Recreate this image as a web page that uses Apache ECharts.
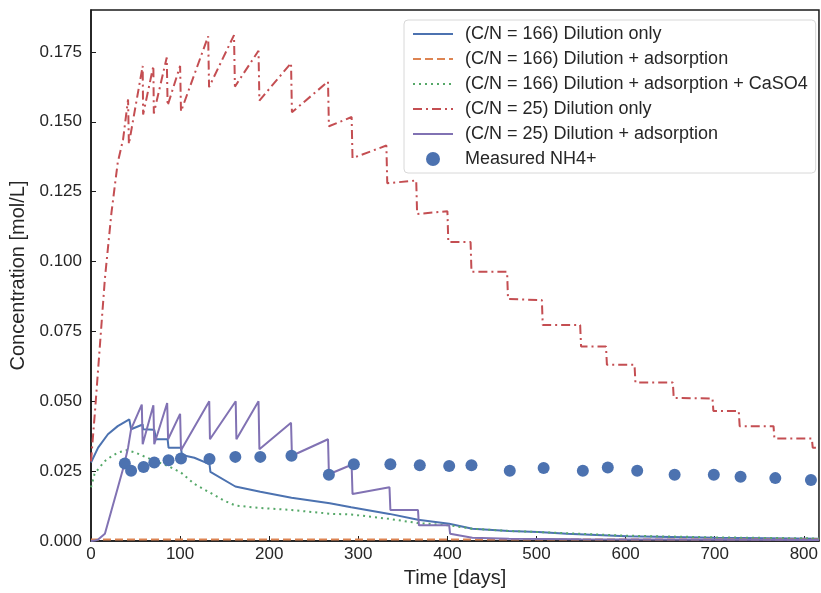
<!DOCTYPE html>
<html>
<head>
<meta charset="utf-8">
<script src="https://cdn.jsdelivr.net/npm/echarts@6/dist/echarts.min.js"></script>
<style>
  html, body { margin: 0; padding: 0; background: #fff; }
  #main { width: 821px; height: 593px; }
</style>
</head>
<body>
<div id="main"></div>
<script>
// C/N = 166, dilution only
const cn166DilDays = [0, 8, 19, 30, 43, 45, 58, 58.5, 71, 73, 86, 87, 101, 102, 116, 133, 134, 162, 163, 190, 191, 225, 226, 268, 269, 292, 335, 367, 402, 428, 469, 502, 534, 601, 701, 817];
const cn166DilConc = [0.0281, 0.0334, 0.0382, 0.0411, 0.0435, 0.0400, 0.0417, 0.0400, 0.0398, 0.0364, 0.0364, 0.0334, 0.0334, 0.0308, 0.0298, 0.0275, 0.0247, 0.0195, 0.0188, 0.0176, 0.0170, 0.0155, 0.0150, 0.0135, 0.0130, 0.0121, 0.0097, 0.0076, 0.0062, 0.0044, 0.0036, 0.0032, 0.0026, 0.0017, 0.0012, 0.0008];

// C/N = 166, dilution + adsorption
const cn166AdsDays = [0, 817];
const cn166AdsConc = [0.0005, 0.0005];

// C/N = 166, dilution + adsorption + CaSO4
const cn166CaDays = [0, 4, 10, 16, 23, 30, 40, 50, 58, 71, 86, 101, 116, 133, 149, 162, 190, 225, 270, 292, 335, 367, 402, 428, 469, 534, 600, 700, 817];
const cn166CaConc = [0.0192, 0.0240, 0.0265, 0.0287, 0.0303, 0.0316, 0.0325, 0.0316, 0.0305, 0.0287, 0.0269, 0.0245, 0.0204, 0.0174, 0.0145, 0.0127, 0.0118, 0.0111, 0.0097, 0.0095, 0.0079, 0.0064, 0.0056, 0.0044, 0.0036, 0.0028, 0.0019, 0.0013, 0.0009];

// C/N = 25, dilution only
const cn25DilDays = [0, 4.5, 10, 15.6, 23, 30, 36, 41.6, 42.5, 58, 58.5, 70, 70.5, 85, 86, 100, 101, 131.5, 132.5, 160.5, 161.5, 188, 189, 224.5, 225.5, 266, 267, 292.5, 293.5, 331.5, 332.5, 365, 366, 400, 401, 426, 427, 467, 468, 506, 507, 549, 550, 578, 579, 610, 611, 653, 654, 697.5, 698.5, 727, 728, 766, 767, 809, 810, 817];
const cn25DilConc = [0.0285, 0.0465, 0.0700, 0.0939, 0.1176, 0.1354, 0.1437, 0.1580, 0.1420, 0.1700, 0.1526, 0.1700, 0.1530, 0.1730, 0.1558, 0.1700, 0.1537, 0.1806, 0.1624, 0.1810, 0.1626, 0.1754, 0.1576, 0.1710, 0.1534, 0.1644, 0.1484, 0.1517, 0.1370, 0.1415, 0.1280, 0.1290, 0.1170, 0.1180, 0.1070, 0.1070, 0.0963, 0.0963, 0.0866, 0.0862, 0.0773, 0.0773, 0.0696, 0.0696, 0.0631, 0.0631, 0.0567, 0.0567, 0.0512, 0.0510, 0.0465, 0.0465, 0.0411, 0.0411, 0.0367, 0.0367, 0.0334, 0.0334];

// C/N = 25, dilution + adsorption
const cn25AdsDays = [0, 4.5, 8, 15.6, 23, 30, 37, 41.6, 45, 57, 58, 70, 71, 85.5, 86.5, 100, 101, 132.7, 133.5, 162.4, 163.2, 188, 189, 224.5, 225.5, 266, 267, 292.5, 293.5, 335, 336, 367, 368, 402, 403, 428, 469, 550, 817];
const cn25AdsConc = [0, 0.0002, 0.0005, 0.0026, 0.0110, 0.0190, 0.0270, 0.0334, 0.0400, 0.0488, 0.0346, 0.0486, 0.0346, 0.0494, 0.0364, 0.0455, 0.0325, 0.0500, 0.0364, 0.0500, 0.0364, 0.0500, 0.0328, 0.0423, 0.0305, 0.0364, 0.0239, 0.0273, 0.0168, 0.0192, 0.0111, 0.0111, 0.0056, 0.0056, 0.0026, 0.0012, 0.0008, 0.0006, 0.0004];

// measured NH4+
const measDays = [38, 45, 59, 71, 87, 101, 133, 162, 190, 225, 267, 295, 336, 369, 402, 427, 470, 508, 552, 580, 613, 655, 699, 729, 768, 808];
const measConc = [0.0277, 0.0251, 0.0265, 0.0281, 0.0289, 0.0295, 0.0293, 0.0301, 0.0301, 0.0305, 0.0237, 0.0275, 0.0275, 0.0271, 0.0268, 0.0271, 0.0251, 0.0261, 0.0251, 0.0263, 0.0251, 0.0237, 0.0237, 0.0230, 0.0225, 0.0218];

const xTicks = [0, 100, 200, 300, 400, 500, 600, 700, 800];
const yTicks = [0, 0.025, 0.05, 0.075, 0.1, 0.125, 0.15, 0.175];

const zip = (xs, ys) => xs.map((x, i) => [x, ys[i]]);

const textColor = '#262626';
const font = 'Liberation Sans, Arial, sans-serif';

function lineSeries(name, days, conc, color, type) {
    return {
        name: name,
        type: 'line',
        data: zip(days, conc),
        symbol: 'none',
        clip: true,
        lineStyle: { color: color, width: 2, type: type },
        itemStyle: { color: color }
    };
}

const chart = echarts.init(document.getElementById('main'));
chart.setOption({
    animation: false,
    backgroundColor: '#fff',
    textStyle: { fontFamily: font },
    grid: {
        left: 91, right: -2, top: 10, bottom: 49,
        show: true, borderColor: '#1a1a1a', borderWidth: 1.5
    },
    legend: {
        orient: 'vertical',
        left: 404, top: 20,
        padding: [5, 8, 5, 8],
        itemWidth: 40, itemHeight: 14, itemGap: 7,
        backgroundColor: 'rgba(255,255,255,0.85)',
        borderColor: '#d8d8d8', borderWidth: 1, borderRadius: 4,
        itemStyle: { opacity: 0 },
        textStyle: { color: textColor, fontSize: 18, padding: [0, 0, 0, 7] },
        data: [
            '(C/N = 166) Dilution only',
            '(C/N = 166) Dilution + adsorption',
            '(C/N = 166) Dilution + adsorption + CaSO4',
            '(C/N = 25) Dilution only',
            '(C/N = 25) Dilution + adsorption',
            { name: 'Measured NH4+', icon: 'circle', itemStyle: { color: '#4c72b0', opacity: 1 } }
        ]
    },
    xAxis: {
        type: 'value', min: 0, max: 817, interval: 100,
        name: 'Time [days]', nameLocation: 'middle', nameGap: 27,
        nameTextStyle: { color: textColor, fontSize: 20 },
        axisLine: { lineStyle: { color: '#1a1a1a', width: 1.5 } },
        axisTick: { inside: true, length: 5, lineStyle: { color: '#1a1a1a' } },
        axisLabel: {
            color: textColor, fontSize: 17, margin: 5, showMaxLabel: false,
            formatter: v => xTicks.includes(v) ? String(v) : ''
        },
        splitLine: { show: false }
    },
    yAxis: {
        type: 'value', min: 0, max: 0.19, interval: 0.025,
        name: 'Concentration [mol/L]', nameLocation: 'middle', nameGap: 61,
        nameTextStyle: { color: textColor, fontSize: 20 },
        axisLine: { show: true, lineStyle: { color: '#1a1a1a', width: 1.5 } },
        axisTick: { show: true, inside: true, length: 5, lineStyle: { color: '#1a1a1a' } },
        axisLabel: {
            color: textColor, fontSize: 17, margin: 9, showMaxLabel: false,
            formatter: v => yTicks.some(t => Math.abs(t - v) < 1e-9) ? v.toFixed(3) : ''
        },
        splitLine: { show: false }
    },
    series: [
        lineSeries('(C/N = 166) Dilution only', cn166DilDays, cn166DilConc, '#4c72b0', 'solid'),
        lineSeries('(C/N = 166) Dilution + adsorption', cn166AdsDays, cn166AdsConc, '#dd8452', [8, 4]),
        lineSeries('(C/N = 166) Dilution + adsorption + CaSO4', cn166CaDays, cn166CaConc, '#55a868', [2, 4]),
        lineSeries('(C/N = 25) Dilution only', cn25DilDays, cn25DilConc, '#c44e52', [9, 4, 2, 4]),
        lineSeries('(C/N = 25) Dilution + adsorption', cn25AdsDays, cn25AdsConc, '#8172b3', 'solid'),
        {
            name: 'Measured NH4+',
            type: 'scatter',
            data: zip(measDays, measConc),
            symbol: 'circle',
            symbolSize: 12,
            z: 5,
            itemStyle: { color: '#4c72b0', opacity: 1 }
        }
    ]
});
</script>
</body>
</html>
